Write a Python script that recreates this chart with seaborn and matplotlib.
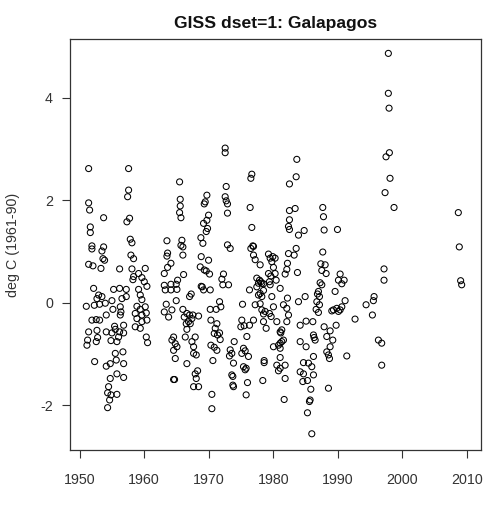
import numpy as np
import pandas as pd
import matplotlib
matplotlib.use("Agg")
import matplotlib.pyplot as plt
import seaborn as sns

sns.set_style("white")
plt.rcParams['font.family'] = ['Liberation Sans', 'DejaVu Sans']

# ---- data (decimal year, anomaly deg C) ----
t_1950s = [1951.04, 1951.14, 1951.24, 1951.40, 1951.40, 1951.40, 1951.40, 1951.55, 1951.66, 1951.66,
           1951.91, 1951.91, 1951.91, 1952.07, 1952.17, 1952.28, 1952.33, 1952.58, 1952.58, 1952.69,
           1952.69, 1952.79, 1952.95, 1953.10, 1953.10, 1953.31, 1953.46, 1953.46, 1953.62, 1953.72,
           1953.72, 1953.87, 1953.98, 1954.13, 1954.13, 1954.13, 1954.34, 1954.34, 1954.49, 1954.65,
           1954.75, 1954.75, 1954.86, 1954.86, 1955.01, 1955.01, 1955.16, 1955.27, 1955.42, 1955.53,
           1955.53, 1955.68, 1955.78, 1955.78, 1955.78, 1956.04, 1956.20, 1956.20, 1956.20, 1956.30,
           1956.30, 1956.40, 1956.56, 1956.71, 1956.82, 1956.82, 1956.82, 1956.82, 1957.23, 1957.23,
           1957.33, 1957.44, 1957.59, 1957.59, 1957.74, 1957.85, 1957.95, 1958.11, 1958.11, 1958.26,
           1958.36, 1958.36, 1958.62, 1958.62, 1958.88, 1958.88, 1959.14, 1959.14, 1959.40, 1959.40,
           1959.40, 1959.65, 1959.65, 1959.65, 1959.65, 1960.02, 1960.17, 1960.17, 1960.33, 1960.33,
           1960.43, 1960.43, 1960.53]
v_1950s = [-0.07, -0.83, -0.73, 2.62, 1.95, 0.75, -0.57, 1.81, 1.48, 1.37,
           1.11, 1.05, -0.34, 0.72, 0.28, -0.05, -1.15, -0.33, -0.76, 0.08,
           -0.54, -0.68, 0.15, -0.03, -0.34, 0.67, 1.01, 0.12, 0.86, 1.66,
           1.09, 0.83, -0.01, -0.24, -0.57, -1.24, -1.76, -2.05, -1.64, -1.90,
           -1.19, -1.48, -0.74, -1.80, 0.04, -0.59, -0.13, 0.26, -0.46, -0.52,
           -0.99, -1.12, -0.76, -1.39, -1.79, -0.67, 0.66, 0.28, -0.57, -0.08,
           -0.24, -0.18, 0.08, -0.96, -0.44, -0.59, -1.19, -1.46, 0.26, 0.12,
           1.58, 2.07, 2.62, 2.20, 1.65, 1.24, 0.93, 1.17, 0.66, 0.45,
           0.86, 0.51, -0.21, -0.47, -0.07, -0.31, 0.57, 0.26, 0.15, -0.13,
           -0.50, 0.49, 0.06, -0.24, -0.37, 0.41, 0.67, -0.08, -0.20, -0.67,
           0.32, -0.34, -0.78]

t_1960s = [1965.49, 1965.59, 1965.59, 1965.49, 1965.70, 1969.72, 1969.46, 1969.31, 1969.98, 1969.72,
           1969.20, 1969.82, 1969.62, 1963.53, 1965.85, 1965.70, 1966.00, 1966.00, 1968.79, 1969.10,
           1963.63, 1963.53, 1964.15, 1963.63, 1963.12, 1968.84, 1969.98, 1966.11, 1965.18, 1964.97,
           1968.69, 1969.31, 1969.62, 1970.13, 1963.12, 1963.27, 1964.15, 1964.15, 1965.08, 1968.84,
           1969.00, 1969.20, 1970.24, 1967.29, 1967.04, 1964.97, 1963.42, 1964.30, 1963.12, 1963.79,
           1966.00, 1966.62, 1967.04, 1966.21, 1967.55, 1968.43, 1967.40, 1966.88, 1966.52, 1967.14,
           1970.24, 1971.16, 1971.68, 1970.34, 1971.27, 1971.01, 1971.68, 1970.86, 1971.37, 1971.78,
           1966.62, 1966.37, 1967.91, 1967.40, 1967.66, 1964.56, 1964.30, 1964.82, 1965.08, 1964.56,
           1970.34, 1970.86, 1971.27, 1964.82, 1966.62, 1967.66, 1968.07, 1970.65, 1968.28, 1967.91,
           1968.07, 1967.66, 1968.43, 1964.56, 1964.71, 1970.49, 1970.49]
v_1960s = [2.36, 2.02, 1.89, 1.76, 1.66, 2.10, 1.97, 1.93, 1.71, 1.61,
           1.55, 1.45, 1.39, 1.21, 1.22, 1.12, 1.09, 0.93, 1.27, 1.16,
           0.97, 0.91, 0.77, 0.69, 0.57, 0.90, 0.83, 0.55, 0.44, 0.36,
           0.70, 0.64, 0.62, 0.56, 0.34, 0.25, 0.36, 0.25, 0.26, 0.32,
           0.31, 0.25, 0.25, 0.17, 0.12, 0.04, -0.03, -0.14, -0.18, -0.28,
           -0.13, -0.21, -0.24, -0.28, -0.24, -0.26, -0.31, -0.37, -0.41, -0.41,
           -0.13, -0.13, 0.02, -0.34, -0.41, -0.50, -0.59, -0.60, -0.63, -0.72,
           -0.52, -0.67, -0.67, -0.76, -0.86, -0.67, -0.73, -0.80, -0.86, -0.93,
           -0.83, -0.87, -0.93, -1.09, -1.19, -0.99, -1.02, -1.13, -1.33, -1.39,
           -1.48, -1.64, -1.64, -1.50, -1.50, -1.79, -2.07]

t_1970s = [1972.55, 1972.55, 1976.68, 1976.53, 1972.71, 1972.55, 1972.71, 1972.91, 1972.91, 1976.42,
           1976.68, 1982.51, 1982.51, 1982.51, 1982.36, 1982.51, 1972.91, 1973.33, 1976.53, 1976.83,
           1976.94, 1976.94, 1977.20, 1977.97, 1979.26, 1979.52, 1979.93, 1980.29, 1979.78, 1980.03,
           1980.29, 1982.36, 1982.20, 1982.10, 1981.84, 1972.29, 1972.04, 1972.19, 1973.07, 1977.45,
           1977.87, 1978.07, 1977.71, 1978.23, 1978.49, 1977.45, 1978.49, 1977.97, 1979.26, 1979.62,
           1979.41, 1979.52, 1980.45, 1981.07, 1976.32, 1977.71, 1978.23, 1979.78, 1982.20, 1981.58,
           1982.10, 1971.88, 1975.24, 1977.20, 1977.97, 1978.23, 1978.74, 1978.49, 1980.03, 1979.41,
           1975.13, 1974.98, 1975.49, 1976.32, 1976.94, 1978.49, 1978.90, 1979.67, 1980.55, 1982.36,
           1982.10, 1981.32, 1981.07, 1981.17, 1975.91, 1973.95, 1981.32, 1981.07, 1980.81, 1981.58,
           1980.03, 1981.07, 1973.33, 1973.58, 1973.22, 1973.84, 1975.39, 1975.65, 1975.13, 1976.16,
           1981.07, 1978.59, 1978.59, 1975.39, 1975.80, 1975.65, 1980.55, 1981.07, 1980.81, 1981.84,
           1973.58, 1973.74, 1973.74, 1973.84, 1976.01, 1978.38, 1981.84, 1975.80, 1981.69]
v_1970s = [3.02, 2.93, 2.51, 2.43, 2.27, 2.07, 1.99, 1.93, 1.75, 1.86,
           1.47, 2.32, 1.80, 1.62, 1.49, 1.43, 1.13, 1.06, 1.06, 1.11,
           1.10, 0.93, 0.84, 0.74, 0.95, 0.87, 0.90, 0.87, 0.80, 0.69,
           0.57, 0.96, 0.77, 0.65, 0.56, 0.56, 0.46, 0.35, 0.35, 0.48,
           0.44, 0.41, 0.38, 0.38, 0.37, 0.31, 0.24, 0.18, 0.57, 0.52,
           0.41, 0.35, 0.44, 0.28, 0.25, 0.15, 0.12, 0.12, 0.09, -0.04,
           -0.11, -0.08, -0.03, -0.04, -0.02, -0.14, -0.17, -0.22, -0.08, -0.21,
           -0.34, -0.47, -0.45, -0.44, -0.34, -0.37, -0.50, -0.27, -0.37, -0.24,
           -0.37, -0.53, -0.57, -0.59, -0.66, -0.76, -0.76, -0.79, -0.83, -0.73,
           -0.86, -0.89, -0.92, -0.99, -1.04, -1.18, -0.89, -0.94, -0.99, -1.05,
           -1.07, -1.13, -1.17, -1.25, -1.28, -1.31, -1.22, -1.28, -1.33, -1.22,
           -1.41, -1.44, -1.61, -1.64, -1.56, -1.52, -1.48, -1.80, -1.89]

t_1980s = [1983.65, 1983.55, 1983.39, 1983.91, 1984.79, 1983.55, 1983.24, 1983.75, 1987.67, 1987.78,
           1987.88, 1989.95, 1987.67, 1987.37, 1988.04, 1988.19, 1987.52, 1990.36, 1990.10, 1990.98,
           1990.62, 1987.26, 1987.52, 1987.00, 1986.85, 1987.16, 1986.75, 1987.16, 1986.64, 1987.00,
           1989.58, 1983.91, 1984.94, 1991.13, 1990.62, 1990.36, 1990.10, 1989.33, 1989.07, 1989.84,
           1985.09, 1984.17, 1986.13, 1987.88, 1988.81, 1989.74, 1988.29, 1989.22, 1988.81, 1988.29,
           1988.55, 1988.71, 1986.23, 1986.33, 1986.49, 1984.17, 1985.09, 1991.39, 1986.23, 1984.68,
           1985.46, 1985.97, 1984.17, 1984.68, 1986.23, 1984.58, 1985.30, 1985.82, 1988.55, 1985.71,
           1985.61, 1985.30, 1985.97]
v_1980s = [2.80, 2.46, 1.84, 1.32, 1.41, 1.06, 0.93, 0.59, 1.86, 1.68,
           1.42, 1.43, 0.99, 0.76, 0.74, 0.57, 0.63, 0.56, 0.44, 0.44,
           0.37, 0.39, 0.35, 0.22, 0.17, 0.12, 0.02, -0.04, -0.13, -0.19,
           0.22, 0.02, 0.12, 0.04, -0.08, -0.14, -0.17, -0.14, -0.16, -0.11,
           -0.36, -0.44, -0.37, -0.47, -0.55, -0.44, -0.66, -0.73, -0.86, -0.96,
           -1.02, -1.09, -0.63, -0.68, -0.73, -0.76, -0.86, -1.04, -1.05, -1.17,
           -1.18, -1.25, -1.35, -1.39, -1.41, -1.54, -1.52, -1.69, -1.67, -1.90,
           -1.93, -2.15, -2.56]

t_late = [1992.67, 1994.38, 1995.36, 1995.51, 1995.62, 1996.29, 1996.80, 1996.80, 1997.16, 1997.16,
          1997.32, 1997.47, 1997.83, 1997.83, 1997.94, 1997.99, 1998.09, 1998.71,
          2008.67, 2008.82, 2009.03, 2009.19]
v_late = [-0.32, -0.04, -0.24, 0.04, 0.12, -0.73, -0.79, -1.22, 0.66, 0.44,
          2.15, 2.85, 4.87, 4.09, 3.80, 2.93, 2.43, 1.86,
          1.76, 1.09, 0.43, 0.35]

x_ticks = [1950, 1960, 1970, 1980, 1990, 2000, 2010]
y_ticks = [-2, 0, 2, 4]
title = "GISS dset=1: Galapagos"
ylabel = "deg C (1961-90)"

df = pd.DataFrame({
    "year": np.concatenate([t_1950s, t_1960s, t_1970s, t_1980s, t_late]),
    "anom": np.concatenate([v_1950s, v_1960s, v_1970s, v_1980s, v_late]),
})

W, H = 499, 505
fig = plt.figure(figsize=(W / 100, H / 100), dpi=100)
L, R, T, B = 70.3, 481.3, 39.3, 449.7
ax = fig.add_axes([L / W, (H - B) / H, (R - L) / W, (B - T) / H])

sns.scatterplot(data=df, x="year", y="anom", ax=ax, marker="o", s=19,
                facecolor="none", edgecolor="black", linewidth=0.75, legend=False)

ax.set_xlim(1948.56, 2012.23)
ax.set_ylim(-2.871, 5.145)
ax.set_xticks(x_ticks)
ax.set_yticks(y_ticks)
ax.set_xticklabels([str(v) for v in x_ticks])
ax.set_yticklabels([str(v) for v in y_ticks])
ax.tick_params(axis="both", direction="out", length=6, width=0.8, colors="#333333",
               labelsize=10.3, labelcolor="#333333", bottom=True, left=True)
ax.tick_params(axis="x", pad=10.5)
ax.tick_params(axis="y", pad=6.5)
for sp in ax.spines.values():
    sp.set_color("#333333")
    sp.set_linewidth(0.9)
ax.set_xlabel("")
ax.set_ylabel("")
ax.set_title(title, fontweight="bold", fontsize=12.6, pad=8, color="#111111")
fig.text(13 / W, 1 - 245 / H, ylabel, rotation=90, ha="center", va="center",
         fontsize=10.3, color="#333333")

fig.savefig("out.png", dpi=100)
